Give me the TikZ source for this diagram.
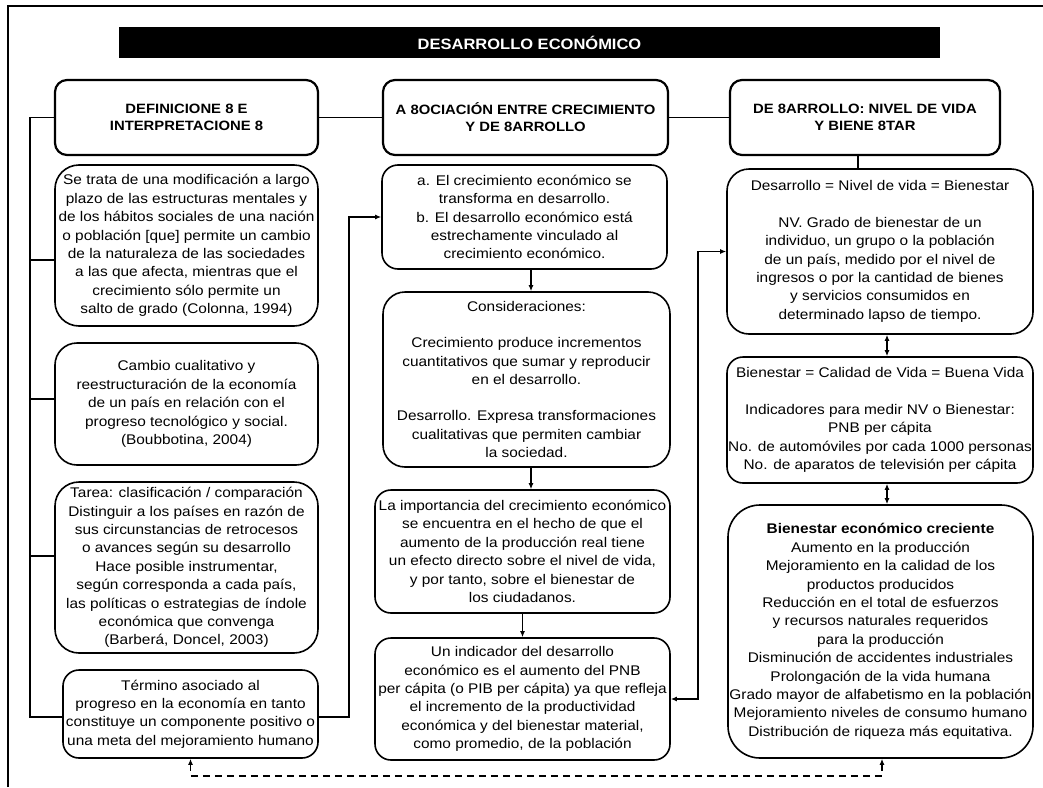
\documentclass[tikz,border=0pt]{standalone}
\usepackage{fontspec}
\setmainfont{Liberation Sans}[FakeStretch=1.1]
\usetikzlibrary{arrows.meta}

\tikzset{
  box/.style={draw, line width=1.6pt, rounded corners=16pt, align=center,
    inner sep=0pt, font=\fontsize{14}{18.4}\selectfont},
  head/.style={box, line width=2.2pt, rounded corners=12pt,
    font=\bfseries\fontsize{13.5}{17}\selectfont},
  sz/.style 2 args={minimum width=#1pt, minimum height=#2pt},
  link/.style={line width=1.5pt},
  >={Latex[length=6pt,width=5pt]}
}

\begin{document}
\begin{tikzpicture}[x=1pt, y=-1pt]
  \useasboundingbox (0,0) rectangle (1043,787);
  \draw[line width=2.6pt] (8,787) -- (8,6) -- (1043,6);

  % title and headers
  \node[fill=black, text=white, sz={821}{31}, font=\bfseries\fontsize{15}{18}\selectfont]
    (title) at (529.5,42.5) {DESARROLLO ECONÓMICO};
  \node[head, sz={263}{75}] (defs) at (186.5,117.5) {DEFINICIONE 8 E\\INTERPRETACIONE 8};
  \node[head, sz={285}{75}] (asoc) at (525.5,117.5) {A 8OCIACIÓN ENTRE CRECIMIENTO\\Y DE 8ARROLLO};
  \node[head, sz={270}{75}] (nivel) at (865,117.5) {DE 8ARROLLO: NIVEL DE VIDA\\Y BIENE 8TAR};

  % left column
  \node[box, sz={263}{161}, rounded corners=24pt] (colonna) at (186.5,245.5)
    {Se trata de una modificación a largo\\plazo de las estructuras mentales y\\de los hábitos sociales de una nación\\o población [que] permite un cambio\\de la naturaleza de las sociedades\\a las que afecta, mientras que el\\crecimiento sólo permite un\\salto de grado (Colonna, 1994)};
  \node[box, sz={263}{122}, rounded corners=22pt] (boub) at (186.5,404)
    {Cambio cualitativo y\\reestructuración de la economía\\de un país en relación con el\\progreso tecnológico y social.\\(Boubbotina, 2004)};
  \node[box, sz={263}{171}, rounded corners=24pt] (tarea) at (186.5,567.5)
    {Tarea: clasificación / comparación\\Distinguir a los países en razón de\\sus circunstancias de retrocesos\\o avances según su desarrollo\\Hace posible instrumentar,\\según corresponda a cada país,\\las políticas o estrategias de índole\\económica que convenga\\(Barberá, Doncel, 2003)};
  \node[box, sz={255}{88}] (termino) at (190.5,714)
    {Término asociado al\\progreso en la economía en tanto\\constituye un componente positivo o\\una meta del mejoramiento humano};

  % middle column
  \node[box, sz={285}{104}] (ab) at (524.5,217)
    {a. El crecimiento económico se\\transforma en desarrollo.\\b. El desarrollo económico está\\estrechamente vinculado al\\crecimiento económico.};
  \node[box, sz={287}{175}, rounded corners=22pt] (consid) at (526.5,379.5)
    {Consideraciones:\\[18pt]Crecimiento produce incrementos\\cuantitativos que sumar y reproducir\\en el desarrollo.\\[18pt]Desarrollo. Expresa transformaciones\\cualitativas que permiten cambiar\\la sociedad.};
  \node[box, sz={295}{123}] (import) at (522.5,551.5)
    {La importancia del crecimiento económico\\se encuentra en el hecho de que el\\aumento de la producción real tiene\\un efecto directo sobre el nivel de vida,\\y por tanto, sobre el bienestar de\\los ciudadanos.};
  \node[box, sz={295}{122}] (pnb) at (522.5,699)
    {Un indicador del desarrollo\\económico es el aumento del PNB\\per cápita (o PIB per cápita) ya que refleja\\el incremento de la productividad\\económica y del bienestar material,\\como promedio, de la población};

  % right column
  \node[box, sz={306}{165}, rounded corners=22pt] (nv) at (880,251.5)
    {Desarrollo = Nivel de vida = Bienestar\\[18pt]NV. Grado de bienestar de un\\individuo, un grupo o la población\\de un país, medido por el nivel de\\ingresos o por la cantidad de bienes\\y servicios consumidos en\\determinado lapso de tiempo.};
  \node[box, sz={306}{126}] (calidad) at (880,420)
    {Bienestar = Calidad de Vida = Buena Vida\\[18pt]Indicadores para medir NV o Bienestar:\\PNB per cápita\\No. de automóviles por cada 1000 personas\\No. de aparatos de televisión per cápita};
  \node[box, sz={305}{253}, rounded corners=32pt] (creciente) at (880.5,631.5)
    {\textbf{Bienestar económico creciente}\\Aumento en la producción\\Mejoramiento en la calidad de los\\productos producidos\\Reducción en el total de esfuerzos\\y recursos naturales requeridos\\para la producción\\Disminución de accidentes industriales\\Prolongación de la vida humana\\Grado mayor de alfabetismo en la población\\Mejoramiento niveles de consumo humano\\Distribución de riqueza más equitativa.};

  % connectors
  \coordinate (spine) at (30,117.5);
  \path[link] (defs) edge (asoc)
              (asoc) edge (nivel);
  \draw[link] (defs.west) -- (spine) -- (spine |- termino.west) -- ++(0,3) -- ([yshift=-3pt]termino.west);
  \foreach \b/\s in {colonna/-14.5, boub/5, tarea/11.5}
    \draw[link] ([yshift=\s pt]\b.west) -- ++(-25,0);
  \draw[link, ->] ([yshift=-3pt]termino.east) -| ([xshift=-32pt]ab.west) -- (ab.west);
  \draw[link, ->] ([xshift=6.5pt]ab.south) -- ([xshift=6.5pt]ab.south |- consid.north);
  \draw[link, ->] ([xshift=4.5pt]consid.south) -- ([xshift=4.5pt]consid.south |- import.north);
  \draw[link, ->] (import.south) -- (import.south |- pnb.north);
  \draw[link, <->] (pnb.east) -| ([xshift=-28pt]nv.west) -- (nv.west);
  \draw[link] ([xshift=-7pt]nivel.south) -- ([xshift=-7pt]nivel.south |- nv.north);
  \draw[link, <->] ([xshift=7pt]nv.south) -- ([xshift=7pt]nv.south |- calidad.north);
  \draw[link, <->] ([xshift=7pt]calidad.south) -- ([xshift=7pt]calidad.south |- creciente.north);
  \draw[link, <->, dashed, dash pattern=on 7pt off 5pt] (termino.south) -- ++(0,17) -| ([xshift=1.5pt]creciente.south);
\end{tikzpicture}
\end{document}
